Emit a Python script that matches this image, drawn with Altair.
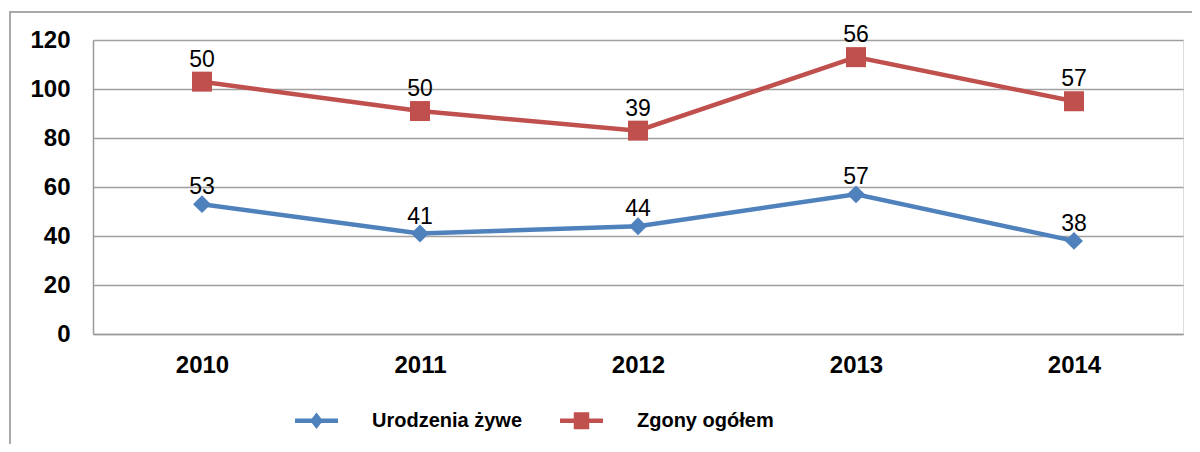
import altair as alt
import pandas as pd

years = ["2010", "2011", "2012", "2013", "2014"]
urodzenia = [53, 41, 44, 57, 38]
zgony = [50, 50, 39, 56, 57]
series = ["Urodzenia żywe", "Zgony ogółem"]
colors = ["#4F81BD", "#C0504D"]
y_ticks = [0, 20, 40, 60, 80, 100, 120]

rows = []
for i, yr in enumerate(years):
    rows.append({"year": yr, "series": series[0], "value": urodzenia[i], "pos": urodzenia[i]})
    rows.append({"year": yr, "series": series[1], "value": zgony[i], "pos": urodzenia[i] + zgony[i]})
df = pd.DataFrame(rows)

FONT = "Liberation Sans"

legend_paths = [
    "M-1,-0.11L1,-0.11L1,0.11L-1,0.11Z M-0.3,0L0,-0.38L0.3,0L0,0.38Z",
    "M-1,-0.11L1,-0.11L1,0.11L-1,0.11Z M-0.36,-0.4L0.36,-0.4L0.36,0.4L-0.36,0.4Z",
]

x_enc = alt.X(
    "year:N",
    sort=years,
    scale=alt.Scale(type="point", padding=0.5),
    axis=alt.Axis(
        title=None, labelAngle=0, ticks=False, grid=False,
        domainColor="#9a9a9a", domainWidth=1.5,
        labelFont=FONT, labelFontSize=24, labelFontWeight="bold",
        labelColor="#000000", labelPadding=19,
    ),
)
y_enc = alt.Y(
    "pos:Q",
    scale=alt.Scale(domain=[0, 120], nice=False),
    axis=alt.Axis(
        title=None, values=y_ticks, ticks=False, grid=True,
        gridColor="#a0a0a0", gridWidth=1.5,
        domainColor="#9a9a9a", domainWidth=1.5,
        labelFont=FONT, labelFontSize=24, labelFontWeight="bold",
        labelColor="#000000", labelPadding=23,
    ),
)

base = alt.Chart(df).encode(x=x_enc, y=y_enc)
blue = base.transform_filter(alt.datum.series == series[0])
red = base.transform_filter(alt.datum.series == series[1])

frame = alt.Chart(pd.DataFrame({"k": [0]})).mark_rect(
    fill=None, stroke="#a8a8a8", strokeWidth=2, clip=False
).encode(
    x=alt.value(-83), x2=alt.value(1130), y=alt.value(-28), y2=alt.value(460)
)

line_blue = blue.mark_line(strokeWidth=4.5, color=colors[0])
line_red = red.mark_line(strokeWidth=4.5, color=colors[1])

pts_blue = blue.mark_point(shape="diamond", filled=True, size=320, opacity=1, color=colors[0])
pts_red = red.mark_point(shape="square", filled=True, size=400, opacity=1, color=colors[1])

txt_blue = blue.mark_text(dy=-17, font=FONT, fontSize=23, color="#000000").encode(text="value:Q")
txt_red = red.mark_text(dy=-22, font=FONT, fontSize=23, color="#000000").encode(text="value:Q")

leg = alt.Legend(
    title=None, orient="none", legendX=202, legendY=359, direction="horizontal",
    symbolSize=1849, symbolStrokeWidth=0, labelFont=FONT, labelFontSize=20,
    labelFontWeight="bold", labelColor="#000000", labelOffset=34,
    columnPadding=37, padding=0,
)

legend_layer = base.transform_filter("datum.pos < 0").mark_point(filled=True, opacity=1).encode(
    color=alt.Color("series:N", scale=alt.Scale(domain=series, range=colors), legend=leg),
    shape=alt.Shape("series:N", scale=alt.Scale(domain=series, range=legend_paths), legend=leg),
)

chart = alt.layer(frame, line_blue, line_red, pts_blue, pts_red, txt_blue, txt_red, legend_layer).properties(
    width=1090, height=294,
    autosize=alt.AutoSizeParams(type="none"),
    padding={"left": 85, "top": 32, "right": 9, "bottom": 110},
).configure_view(stroke=None).configure(background="white")

chart.save("out.html", embed_options={"renderer": "svg", "actions": False})
